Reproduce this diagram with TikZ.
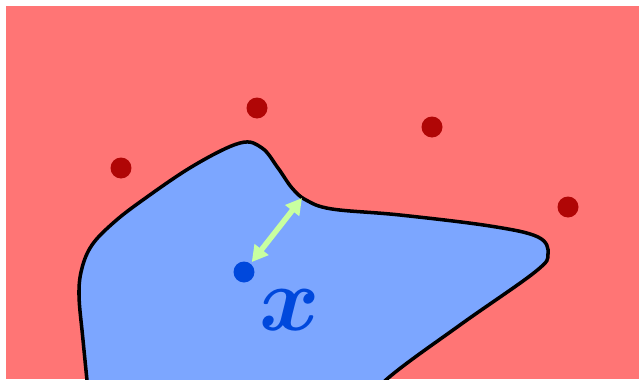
\documentclass[tikz,border=0pt]{standalone}
\usepackage{graphicx}
\usepackage{bm}
\usepackage{xcolor}
\usetikzlibrary{arrows.meta}
\usetikzlibrary{positioning}

\definecolor{bgred}{RGB}{255,117,117}
\definecolor{blobblue}{RGB}{124,166,255}
\definecolor{dotred}{RGB}{176,6,6}
\definecolor{pointblue}{RGB}{0,72,220}
\definecolor{arrowgreen}{RGB}{200,255,160}

\begin{document}
\begin{tikzpicture}[
        x=0.02cm, y=-0.02cm,
        % 
        sample node/.style={
            circle,
            fill=dotred,
            minimum size=0.42cm,
            inner sep=0pt,
        },
        % 
        query node/.style={
            circle,
            fill=pointblue,
            minimum size=0.42cm,
            inner sep=0pt,
        },
        distance edge/.style={{Triangle[length=0.32cm,width=0.34cm]}-{Triangle[length=0.32cm,width=0.34cm]}, line width=0.11cm, arrowgreen}
        ]
        
        \useasboundingbox (0,0) rectangle (639,379);
        \fill[bgred] (6,6) rectangle (639,379);
        
        % Region
        
        \begin{scope}
        \clip (6,6) rectangle (639,379);
        \draw[fill=blobblue, line width=2pt] plot[smooth, tension=0.6] coordinates {
            (91,420) (83,340) (79,295) (82,268) (92,245) (112,224) (140,202) (193,166)
            (240,143) (262,148) (278,168) (292,188) (306,200) (332,209) (400,215)
            (490,226) (538,237) (548,254) (535,272) (460,325) (387,379) (350,420)}
            -- cycle;
        \end{scope}
        
        % Vertices
        
        \node[sample node] (S1) at (121,168) {};
        \node[sample node] (S2) at (257,108) {};
        \node[sample node] (S3) at (432,127) {};
        \node[sample node] (S4) at (568,207) {};
        \node[query node] (X) at (244,272) {};
        \coordinate (B) at (302,198);
        \node[text=pointblue, font=\Huge] (XL) at (290,310) {\scalebox{2.1}{$\bm{x}$}};
        
        % Edges
        
        \draw[distance edge, shorten <=1pt] (X) to (B);
        % 		
    \end{tikzpicture}
\end{document}
